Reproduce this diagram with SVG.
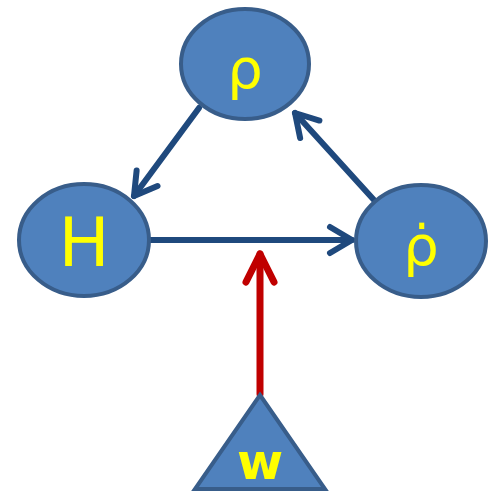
<svg xmlns="http://www.w3.org/2000/svg" width="489" height="492" viewBox="0 0 489 492">
<style>
.node{fill:#4F81BD;stroke:#385D8A;stroke-width:4}
.lbl{fill:#FFFF00;font-family:"DejaVu Sans",sans-serif;text-anchor:middle}
.blue{stroke:#1F497D;stroke-width:6;fill:none;stroke-linecap:round}
.red{stroke:#C00000;stroke-width:7;fill:none;stroke-linecap:round}
</style>
<defs>
<marker id="hb" markerUnits="userSpaceOnUse" markerWidth="40" markerHeight="40" refX="0" refY="0" viewBox="-30 -20 40 40" orient="auto" overflow="visible">
<path d="M-22,-13 L0,0 L-22,13" fill="none" stroke="#1F497D" stroke-width="6" stroke-linecap="round" stroke-linejoin="round"/>
</marker>
<marker id="hr" markerUnits="userSpaceOnUse" markerWidth="40" markerHeight="40" refX="0" refY="0" viewBox="-30 -20 40 40" orient="auto" overflow="visible">
<path d="M-28,-14 L0,0 L-28,14" fill="none" stroke="#C00000" stroke-width="7" stroke-linecap="round" stroke-linejoin="round"/>
</marker>
</defs>
<g id="edges">
<line class="blue" x1="150" y1="240" x2="352" y2="240" marker-end="url(#hb)"/>
<line class="blue" x1="199" y1="108" x2="134" y2="196" marker-end="url(#hb)"/>
<line class="blue" x1="374" y1="200" x2="295" y2="113" marker-end="url(#hb)"/>
<line class="red" x1="260" y1="394" x2="260" y2="254" marker-end="url(#hr)"/>
</g>
<g id="rho">
<ellipse class="node" cx="245" cy="64" rx="64" ry="55"/>
<text class="lbl" x="245" y="88" font-size="56">ρ</text>
</g>
<g id="H">
<ellipse class="node" cx="84" cy="240" rx="65" ry="56"/>
<text class="lbl" x="84" y="266" font-size="68">H</text>
</g>
<g id="rhodot">
<ellipse class="node" cx="421" cy="241" rx="65" ry="56"/>
<text class="lbl" x="421" y="265" font-size="56">ρ̇</text>
</g>
<g id="w">
<polygon class="node" points="260,395 325,489 195,489"/>
<text class="lbl" x="260" y="479" font-size="50" font-weight="bold">w</text>
</g>
</svg>
